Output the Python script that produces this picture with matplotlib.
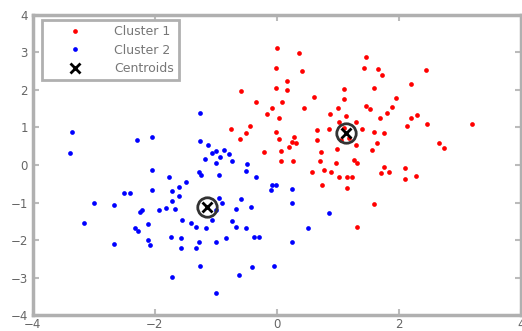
import matplotlib
matplotlib.use('Agg')
import matplotlib.pyplot as plt
import numpy as np

# cluster 1 (red)
c1_x = [0.00, 0.36, 1.46, -0.02, 0.41, 1.43, 1.66, 1.72, 2.44, 2.20,
        0.16, -0.02, 0.16, 0.61, 1.10, 1.59, 1.10, 1.95, -0.34, 0.08,
        -0.08, -0.16, 0.03, 0.44, 0.87, 1.00, 1.13, 1.46, 1.52, 1.89,
        1.80, 1.30, 1.02, 1.69, 2.20, 2.30, 2.13, 2.46, 3.20, -0.59,
        -0.75, -0.44, -0.51, -0.61, -0.02, 0.03, 0.28, 0.25, 0.31, 0.20,
        0.66, 0.66, 0.85, 1.39, 1.59, 1.75, -0.21, 0.07, 0.72, 0.07,
        0.26, 0.70, 0.98, 1.30, 1.64, 1.56, 2.66, 2.74, 0.57, 0.77,
        0.89, 0.97, 1.02, 1.15, 1.23, 1.26, 1.31, 1.75, 1.84, 1.70,
        2.10, 2.10, 2.28, 0.74, 1.15, 1.59, 1.31, 1.10, 1.18, 1.05]
c1_y = [3.12, 2.99, 2.88, 2.59, 2.51, 2.59, 2.56, 2.40, 2.53, 2.16,
        2.24, 2.05, 2.00, 1.81, 2.03, 2.05, 1.76, 1.79, 1.68, 1.68,
        1.52, 1.36, 1.25, 1.52, 1.36, 1.52, 1.31, 1.57, 1.49, 1.55,
        1.39, 1.15, 1.15, 1.25, 1.25, 1.33, 1.04, 1.09, 1.09, 1.97,
        0.96, 1.04, 0.85, 0.69, 0.88, 0.69, 0.75, 0.61, 0.59, 0.48,
        0.93, 0.67, 0.96, 0.96, 0.88, 0.85, 0.35, 0.37, 0.35, 0.11,
        0.11, 0.11, 0.43, 0.53, 0.59, 0.40, 0.59, 0.45, -0.19, -0.13,
        -0.19, 0.05, -0.32, -0.32, -0.32, 0.13, 0.05, -0.05, -0.19, -0.22,
        -0.08, -0.37, -0.29, -0.53, -0.61, -1.04, -1.65, 0.99, 0.72, 0.67]

# cluster 2 (blue)
c2_x = [-3.36, -3.39, -2.30, -2.05, -1.26, -1.26, -1.13, -1.00, -0.87, -0.79,
        -0.93, -1.18, -1.00, -0.74, -0.49, -0.51, -1.28, -1.24, -0.95, -0.34,
        -2.05, -1.77, -1.49, -1.61, -1.72, -2.05, -2.51, -2.41, -1.61, -1.72,
        -3.00, -2.67, -2.21, -2.25, -1.93, -1.82, -1.67, -0.95, -0.59, -0.43,
        -0.67, -1.00, -0.90, -1.07, -0.74, -0.67, -0.51, -1.16, -1.33, -1.56,
        -1.41, -3.16, -2.33, -2.28, -2.11, -1.74, -1.57, -1.28, -1.00, -0.84,
        -0.38, -2.67, -2.11, -2.08, -1.57, -1.33, -1.26, -1.72, -0.41, -0.62,
        -1.00, -0.08, -0.02, -0.10, 0.25, 0.25, 0.85, 0.51, 0.25, -0.05,
        -0.30, -1.07]
c2_y = [0.88, 0.32, 0.67, 0.75, 1.39, 0.64, 0.53, 0.37, 0.40, 0.29,
        0.21, 0.16, 0.05, 0.11, 0.03, -0.16, -0.19, -0.27, -0.27, -0.32,
        -0.13, -0.32, -0.45, -0.59, -0.69, -0.67, -0.75, -0.75, -0.83, -0.96,
        -1.01, -1.07, -1.20, -1.25, -1.20, -1.15, -1.17, -0.88, -0.91, -1.12,
        -1.17, -1.20, -1.01, -1.47, -1.49, -1.65, -1.68, -1.68, -1.65, -1.47,
        -1.55, -1.55, -1.68, -1.76, -1.57, -1.92, -1.95, -2.05, -2.05, -1.95,
        -1.92, -2.11, -2.00, -2.13, -2.21, -2.21, -2.69, -2.99, -2.72, -2.93,
        -3.41, -0.53, -0.53, -0.67, -0.64, -1.01, -1.28, -1.68, -2.05, -2.69,
        -1.92, 0.32]

cent_x = [1.13, -1.15]
cent_y = [0.85, -1.12]

fig = plt.figure(figsize=(5.22, 3.31), dpi=100)
ax = fig.add_axes([0.063, 0.048, 0.935, 0.907])

ax.plot(c1_x, c1_y, 'o', color='#ff0000', ms=3.4, mec='none', label='Cluster 1')
ax.plot(c2_x, c2_y, 'o', color='#0000ff', ms=3.4, mec='none', label='Cluster 2')
ax.plot(cent_x, cent_y, 'o', ms=14, mfc='none', mec='#333333', mew=2)
ax.plot(cent_x, cent_y, 'x', color='k', ms=7, mew=2, label='Centroids')

ax.set_xlim(-4, 4)
ax.set_ylim(-4, 4)
ax.set_xticks(np.arange(-4, 5, 2))
ax.set_yticks(np.arange(-4, 5, 1))
ax.tick_params(direction='in', length=4, width=1.5, color='#bbbbbb',
               labelcolor='#666666', labelsize=8.5, top=True, right=True)
ax.tick_params(axis='x', pad=2)
for s in ax.spines.values():
    s.set_color('#b0b0b0')
    s.set_linewidth(2.5)

leg = ax.legend(loc='upper left', bbox_to_anchor=(0.018, 0.983), borderaxespad=0,
                fontsize=9, handlelength=4.6, labelspacing=0.45, fancybox=False,
                framealpha=1, labelcolor='#777777')
leg.get_frame().set_edgecolor('#b0b0b0')
leg.get_frame().set_linewidth(2)

fig.savefig('out.png', dpi=100)
